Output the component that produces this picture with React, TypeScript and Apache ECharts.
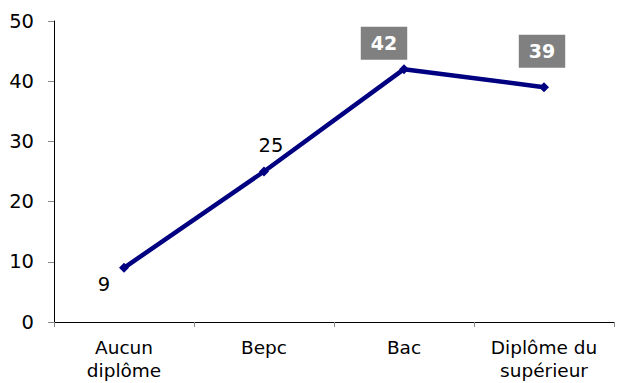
import React, { useEffect, useRef } from "react";
import * as echarts from "echarts";

const categories = ["Aucun\ndiplôme", "Bepc", "Bac", "Diplôme du\nsupérieur"];
const values = [9, 25, 42, 39];
const yTicks = { min: 0, max: 50, interval: 10 };

const FONT = "DejaVu Sans, Verdana, sans-serif";

export default function App() {
  const ref = useRef<HTMLDivElement>(null);
  useEffect(() => {
    if (!ref.current) return;
    const chart = echarts.init(ref.current, null, { renderer: "svg" });
    const plain = { color: "#000", fontSize: 19.5, fontFamily: FONT };
    const boxed = {
      color: "#fff",
      fontSize: 19,
      fontWeight: "bold",
      fontFamily: FONT,
      backgroundColor: "#808080",
      padding: [6, 10, 6, 10],
      lineHeight: 21,
    };
    const labelDefs = [
      { offset: [-20, 17], style: plain },
      { offset: [7, -26], style: plain },
      { offset: [-20, -26], style: boxed },
      { offset: [-2, -36], style: boxed },
    ];
    chart.setOption({
      animation: false,
      backgroundColor: "#fff",
      grid: { left: 54, right: 3, top: 21, bottom: 61, containLabel: false },
      xAxis: {
        type: "category",
        data: categories,
        boundaryGap: true,
        axisLine: { show: true, lineStyle: { color: "#000", width: 1 } },
        axisTick: { show: true, inside: false, length: 5, lineStyle: { color: "#888" } },
        axisLabel: { color: "#000", fontSize: 18.5, fontFamily: FONT, lineHeight: 23, margin: 14, interval: 0 },
        splitLine: { show: false },
      },
      yAxis: {
        type: "value",
        min: yTicks.min,
        max: yTicks.max,
        interval: yTicks.interval,
        axisLine: { show: true, lineStyle: { color: "#000", width: 1 } },
        axisTick: { show: true, inside: false, length: 6, lineStyle: { color: "#888" } },
        axisLabel: { color: "#000", fontSize: 19.5, fontFamily: FONT, margin: 20 },
        splitLine: { show: false },
      },
      series: [
        {
          type: "line",
          data: values.map((v, i) => ({
            value: v,
            label: {
              show: true,
              position: "inside",
              align: "center",
              verticalAlign: "middle",
              offset: labelDefs[i].offset,
              ...labelDefs[i].style,
            },
          })),
          lineStyle: { color: "#000080", width: 4.5 },
          itemStyle: { color: "#000080" },
          symbol: "diamond",
          symbolSize: 10,
        },
      ],
    });
    return () => chart.dispose();
  }, []);
  return <div ref={ref} style={{ width: 617, height: 383, position: "absolute", left: 0, top: 0 }} />;
}
